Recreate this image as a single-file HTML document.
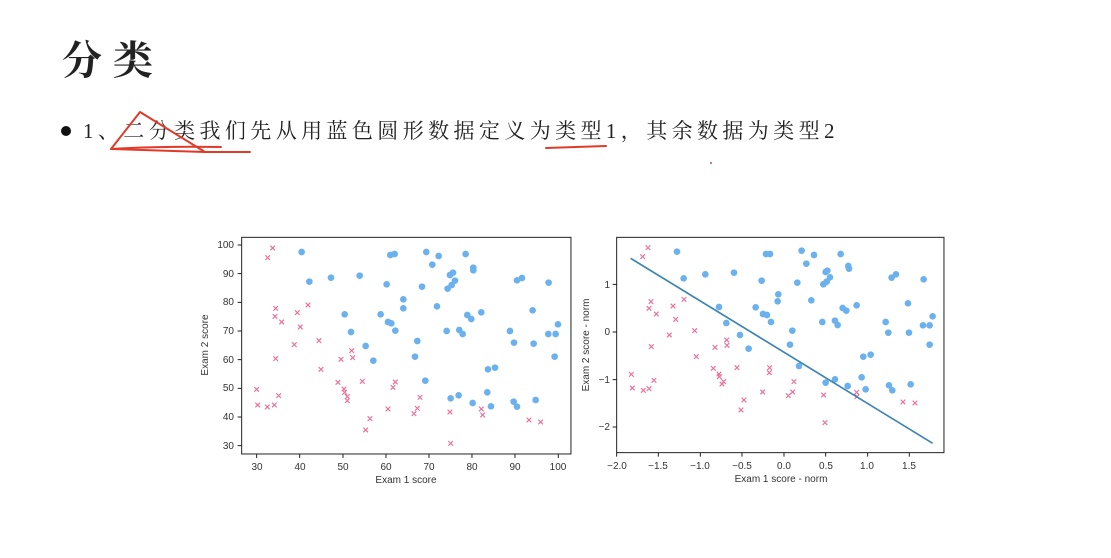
<!DOCTYPE html>
<html><head><meta charset="utf-8"><style>
html,body{margin:0;padding:0;background:#fff;width:1111px;height:558px;overflow:hidden}
svg{display:block}
.t{font-family:"Liberation Sans","DejaVu Sans",sans-serif;font-size:10px;fill:#333}
</style></head><body>
<svg width="1111" height="558" viewBox="0 0 1111 558" xmlns="http://www.w3.org/2000/svg">
<text x="62" y="74" font-family="'Liberation Serif','Noto Serif CJK SC',serif" font-weight="bold" font-size="40" letter-spacing="11" fill="#222">分类</text>
<circle cx="66" cy="131" r="5" fill="#111"/>
<text x="83" y="138" font-family="'Liberation Serif','Noto Serif CJK SC',serif" font-size="21" letter-spacing="4.4" fill="#222">1、二分类我们先从用蓝色圆形数据定义为类型1，其余数据为类型2</text>
<g stroke="#e23a2a" stroke-width="2" fill="none" stroke-linecap="round">
<path d="M140 112 L111 149 L205 152 Z" stroke-linejoin="round"/>
<path d="M111 149 Q160 146 221 147"/>
<path d="M205 152 L250 152"/>
<path d="M546 148 Q575 147 606 146"/>
</g>
<circle cx="711" cy="163" r="1" fill="#a55"/>

<!-- left plot -->
<g transform="translate(190,230) scale(0.3333)">
<rect x="155" y="22" width="988" height="650" fill="none" stroke="#222" stroke-width="3"/>
<g fill="#6bb1ee">
<circle cx="335" cy="66" r="10"/><circle cx="358" cy="155" r="10"/><circle cx="423" cy="143" r="10"/><circle cx="509" cy="137" r="10"/><circle cx="464" cy="253" r="10"/><circle cx="483" cy="306" r="10"/><circle cx="527" cy="348" r="10"/><circle cx="550" cy="392" r="10"/><circle cx="572" cy="253" r="10"/><circle cx="590" cy="163" r="10"/><circle cx="594" cy="276" r="10"/><circle cx="604" cy="280" r="10"/><circle cx="616" cy="302" r="10"/><circle cx="601" cy="75" r="10"/><circle cx="614" cy="72" r="10"/><circle cx="640" cy="208" r="10"/><circle cx="640" cy="235" r="10"/><circle cx="682" cy="333" r="10"/><circle cx="675" cy="380" r="10"/><circle cx="696" cy="170" r="10"/><circle cx="706" cy="452" r="10"/><circle cx="709" cy="66" r="10"/><circle cx="727" cy="104" r="10"/><circle cx="741" cy="229" r="10"/><circle cx="746" cy="78" r="10"/><circle cx="770" cy="303" r="10"/><circle cx="773" cy="176" r="10"/><circle cx="780" cy="135" r="10"/><circle cx="789" cy="128" r="10"/><circle cx="785" cy="165" r="10"/><circle cx="795" cy="152" r="10"/><circle cx="808" cy="300" r="10"/><circle cx="818" cy="312" r="10"/><circle cx="827" cy="72" r="10"/><circle cx="832" cy="255" r="10"/><circle cx="844" cy="267" r="10"/><circle cx="850" cy="113" r="10"/><circle cx="850" cy="121" r="10"/><circle cx="874" cy="247" r="10"/><circle cx="894" cy="418" r="10"/><circle cx="892" cy="487" r="10"/><circle cx="903" cy="529" r="10"/><circle cx="915" cy="413" r="10"/><circle cx="848" cy="519" r="10"/><circle cx="806" cy="496" r="10"/><circle cx="782" cy="505" r="10"/><circle cx="960" cy="303" r="10"/><circle cx="972" cy="338" r="10"/><circle cx="981" cy="151" r="10"/><circle cx="996" cy="144" r="10"/><circle cx="1028" cy="241" r="10"/><circle cx="1031" cy="341" r="10"/><circle cx="1075" cy="312" r="10"/><circle cx="1097" cy="312" r="10"/><circle cx="1104" cy="283" r="10"/><circle cx="1094" cy="380" r="10"/><circle cx="1076" cy="158" r="10"/><circle cx="971" cy="515" r="10"/><circle cx="981" cy="530" r="10"/><circle cx="1037" cy="510" r="10"/>
</g>
<g stroke="#ec6f9a" stroke-width="3.5">
<path d="M241 47l14 14m0-14l-14 14M226 76l14 14m0-14l-14 14M250 228l14 14m0-14l-14 14M248 252l14 14m0-14l-14 14M268 269l14 14m0-14l-14 14M315 241l14 14m0-14l-14 14M324 284l14 14m0-14l-14 14M306 337l14 14m0-14l-14 14M250 379l14 14m0-14l-14 14M347 218l14 14m0-14l-14 14M380 325l14 14m0-14l-14 14M386 411l14 14m0-14l-14 14M446 381l14 14m0-14l-14 14M437 450l14 14m0-14l-14 14M455 470l14 14m0-14l-14 14M457 480l14 14m0-14l-14 14M465 493l14 14m0-14l-14 14M465 505l14 14m0-14l-14 14M478 355l14 14m0-14l-14 14M481 376l14 14m0-14l-14 14M510 447l14 14m0-14l-14 14M533 559l14 14m0-14l-14 14M520 593l14 14m0-14l-14 14M587 530l14 14m0-14l-14 14M602 465l14 14m0-14l-14 14M609 449l14 14m0-14l-14 14M665 544l14 14m0-14l-14 14M675 528l14 14m0-14l-14 14M683 495l14 14m0-14l-14 14M193 471l14 14m0-14l-14 14M196 518l14 14m0-14l-14 14M225 524l14 14m0-14l-14 14M246 518l14 14m0-14l-14 14M259 490l14 14m0-14l-14 14M773 539l14 14m0-14l-14 14M775 633l14 14m0-14l-14 14M867 530l14 14m0-14l-14 14M871 548l14 14m0-14l-14 14M1010 563l14 14m0-14l-14 14M1045 569l14 14m0-14l-14 14"/>
</g>
<g stroke="#222" stroke-width="3">
<path d="M155 45h-12M155 131h-12M155 217h-12M155 303h-12M155 389h-12M155 475h-12M155 561h-12M155 647h-12"/>
<path d="M200 672v12M329 672v12M459 672v12M588 672v12M717 672v12M846 672v12M975 672v12M1105 672v12"/>
</g>
</g>
<g class="t" text-anchor="end">
<text x="234" y="248">100</text><text x="234" y="277">90</text><text x="234" y="305">80</text><text x="234" y="334">70</text><text x="234" y="363">60</text><text x="234" y="391">50</text><text x="234" y="420">40</text><text x="234" y="449">30</text>
</g>
<g class="t" text-anchor="middle">
<text x="257" y="470">30</text><text x="300" y="470">40</text><text x="343" y="470">50</text><text x="386" y="470">60</text><text x="429" y="470">70</text><text x="472" y="470">80</text><text x="515" y="470">90</text><text x="558" y="470">100</text>
<text x="406" y="483">Exam 1 score</text>
<text transform="translate(208,345) rotate(-90)">Exam 2 score</text>
</g>

<!-- right plot -->
<g transform="translate(575,230) scale(0.3333)">
<rect x="125" y="22" width="982" height="646" fill="none" stroke="#222" stroke-width="3"/>
<g fill="#6bb1ee">
<circle cx="306" cy="65" r="10"/><circle cx="326" cy="145" r="10"/><circle cx="391" cy="133" r="10"/><circle cx="477" cy="128" r="10"/><circle cx="432" cy="231" r="10"/><circle cx="454" cy="279" r="10"/><circle cx="495" cy="315" r="10"/><circle cx="521" cy="356" r="10"/><circle cx="542" cy="232" r="10"/><circle cx="560" cy="152" r="10"/><circle cx="564" cy="252" r="10"/><circle cx="576" cy="255" r="10"/><circle cx="588" cy="276" r="10"/><circle cx="573" cy="72" r="10"/><circle cx="585" cy="72" r="10"/><circle cx="610" cy="193" r="10"/><circle cx="608" cy="214" r="10"/><circle cx="652" cy="302" r="10"/><circle cx="645" cy="344" r="10"/><circle cx="667" cy="158" r="10"/><circle cx="680" cy="62" r="10"/><circle cx="694" cy="101" r="10"/><circle cx="709" cy="211" r="10"/><circle cx="717" cy="75" r="10"/><circle cx="742" cy="276" r="10"/><circle cx="745" cy="163" r="10"/><circle cx="752" cy="126" r="10"/><circle cx="757" cy="122" r="10"/><circle cx="755" cy="155" r="10"/><circle cx="765" cy="142" r="10"/><circle cx="780" cy="272" r="10"/><circle cx="788" cy="285" r="10"/><circle cx="797" cy="72" r="10"/><circle cx="803" cy="234" r="10"/><circle cx="814" cy="242" r="10"/><circle cx="820" cy="108" r="10"/><circle cx="822" cy="116" r="10"/><circle cx="845" cy="226" r="10"/><circle cx="865" cy="380" r="10"/><circle cx="887" cy="374" r="10"/><circle cx="860" cy="442" r="10"/><circle cx="872" cy="478" r="10"/><circle cx="818" cy="468" r="10"/><circle cx="780" cy="448" r="10"/><circle cx="752" cy="458" r="10"/><circle cx="932" cy="276" r="10"/><circle cx="940" cy="308" r="10"/><circle cx="950" cy="143" r="10"/><circle cx="963" cy="133" r="10"/><circle cx="999" cy="220" r="10"/><circle cx="1002" cy="308" r="10"/><circle cx="1044" cy="286" r="10"/><circle cx="1064" cy="286" r="10"/><circle cx="1073" cy="259" r="10"/><circle cx="1064" cy="344" r="10"/><circle cx="1046" cy="148" r="10"/><circle cx="942" cy="466" r="10"/><circle cx="952" cy="481" r="10"/><circle cx="1007" cy="463" r="10"/><circle cx="672" cy="408" r="10"/>
</g>
<g stroke="#ec6f9a" stroke-width="3.5">
<path d="M212 46l14 14m0-14l-14 14M196 73l14 14m0-14l-14 14M221 208l14 14m0-14l-14 14M215 228l14 14m0-14l-14 14M237 245l14 14m0-14l-14 14M287 221l14 14m0-14l-14 14M295 261l14 14m0-14l-14 14M276 308l14 14m0-14l-14 14M222 343l14 14m0-14l-14 14M320 201l14 14m0-14l-14 14M352 295l14 14m0-14l-14 14M357 373l14 14m0-14l-14 14M413 345l14 14m0-14l-14 14M408 408l14 14m0-14l-14 14M425 425l14 14m0-14l-14 14M426 433l14 14m0-14l-14 14M434 455l14 14m0-14l-14 14M439 448l14 14m0-14l-14 14M448 323l14 14m0-14l-14 14M449 339l14 14m0-14l-14 14M479 406l14 14m0-14l-14 14M500 503l14 14m0-14l-14 14M491 533l14 14m0-14l-14 14M556 479l14 14m0-14l-14 14M577 406l14 14m0-14l-14 14M576 421l14 14m0-14l-14 14M633 490l14 14m0-14l-14 14M646 479l14 14m0-14l-14 14M650 448l14 14m0-14l-14 14M162 426l14 14m0-14l-14 14M165 467l14 14m0-14l-14 14M198 474l14 14m0-14l-14 14M215 469l14 14m0-14l-14 14M230 444l14 14m0-14l-14 14M739 488l14 14m0-14l-14 14M743 571l14 14m0-14l-14 14M838 480l14 14m0-14l-14 14M839 493l14 14m0-14l-14 14M977 509l14 14m0-14l-14 14M1013 512l14 14m0-14l-14 14"/>
</g>
<path d="M167 85 L1073 640" stroke="#3d84b4" stroke-width="5" fill="none"/>
<g stroke="#222" stroke-width="3">
<path d="M125 163h-12M125 306h-12M125 449h-12M125 591h-12"/>
<path d="M125 668v12M250 668v12M376 668v12M501 668v12M627 668v12M752 668v12M878 668v12M1003 668v12"/>
</g>
</g>
<g class="t" text-anchor="end">
<text x="610" y="288">1</text><text x="610" y="335">0</text><text x="610" y="383">−1</text><text x="610" y="430">−2</text>
</g>
<g class="t" text-anchor="middle">
<text x="617" y="469">−2.0</text><text x="658" y="469">−1.5</text><text x="700" y="469">−1.0</text><text x="742" y="469">−0.5</text><text x="784" y="469">0.0</text><text x="826" y="469">0.5</text><text x="867" y="469">1.0</text><text x="909" y="469">1.5</text>
<text x="781" y="482">Exam 1 score - norm</text>
<text transform="translate(589,345) rotate(-90)">Exam 2 score - norm</text>
</g>
</svg>
</body></html>
